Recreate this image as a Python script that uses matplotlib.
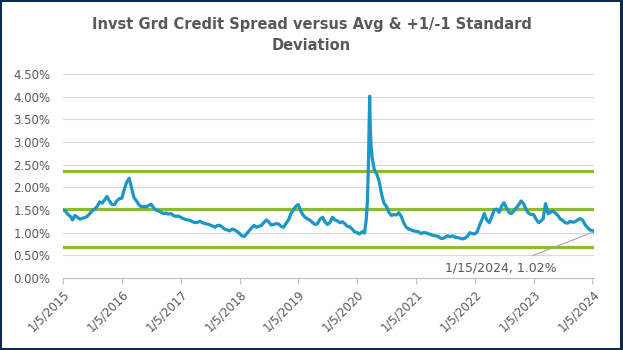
import matplotlib.pyplot as plt
from matplotlib.patches import Rectangle
import numpy as np
import pandas as pd

# Semi-monthly readings (5th and 20th) of the IG credit spread, in percent
spread_by_year = {
    2015: [1.50, 1.48, 1.40, 1.36, 1.28, 1.38, 1.34, 1.30, 1.32, 1.33, 1.36, 1.42,
           1.48, 1.52, 1.58, 1.68, 1.65, 1.72, 1.80, 1.70, 1.62, 1.62, 1.70, 1.75],
    2016: [1.76, 1.95, 2.12, 2.20, 2.00, 1.78, 1.70, 1.62, 1.57, 1.58, 1.57, 1.60,
           1.63, 1.55, 1.50, 1.48, 1.45, 1.42, 1.43, 1.41, 1.42, 1.38, 1.36, 1.37],
    2017: [1.34, 1.31, 1.29, 1.28, 1.27, 1.24, 1.22, 1.23, 1.25, 1.22, 1.20, 1.19,
           1.17, 1.15, 1.12, 1.16, 1.16, 1.12, 1.08, 1.06, 1.04, 1.08, 1.06, 1.03],
    2018: [0.98, 0.93, 0.92, 0.98, 1.04, 1.10, 1.16, 1.12, 1.14, 1.16, 1.22, 1.28,
           1.24, 1.17, 1.18, 1.20, 1.19, 1.14, 1.12, 1.20, 1.28, 1.42, 1.50, 1.58],
    2019: [1.62, 1.48, 1.38, 1.33, 1.30, 1.27, 1.22, 1.18, 1.20, 1.30, 1.34, 1.24,
           1.18, 1.22, 1.34, 1.28, 1.26, 1.22, 1.24, 1.20, 1.14, 1.13, 1.08, 1.02],
    2021: [1.03, 1.02, 0.98, 1.00, 1.00, 0.98, 0.96, 0.94, 0.93, 0.92, 0.88, 0.87,
           0.90, 0.93, 0.91, 0.93, 0.90, 0.89, 0.88, 0.86, 0.88, 0.92, 1.00, 0.98],
    2022: [0.97, 1.02, 1.18, 1.30, 1.42, 1.28, 1.22, 1.35, 1.50, 1.52, 1.45, 1.58,
           1.66, 1.55, 1.45, 1.42, 1.48, 1.55, 1.62, 1.70, 1.63, 1.50, 1.43, 1.40],
    2023: [1.40, 1.30, 1.22, 1.26, 1.30, 1.64, 1.42, 1.45, 1.48, 1.43, 1.38, 1.30,
           1.27, 1.22, 1.21, 1.25, 1.23, 1.24, 1.28, 1.31, 1.28, 1.18, 1.12, 1.06],
}

# 2020 has extra readings around the March spike
dates_2020 = ["2020-01-05", "2020-01-20", "2020-02-05", "2020-02-20", "2020-03-02",
              "2020-03-09", "2020-03-16", "2020-03-23", "2020-03-27", "2020-04-01",
              "2020-04-08", "2020-04-20", "2020-05-05", "2020-05-20", "2020-06-05",
              "2020-06-20", "2020-07-05", "2020-07-20", "2020-08-05", "2020-08-20",
              "2020-09-05", "2020-09-20", "2020-10-05", "2020-10-20", "2020-11-05",
              "2020-11-20", "2020-12-05", "2020-12-20"]
spread_2020 = [1.00, 0.97, 1.02, 0.99, 1.30, 1.70, 2.60, 4.01, 3.30, 2.90,
               2.65, 2.40, 2.30, 2.15, 1.85, 1.65, 1.58, 1.45, 1.38, 1.40,
               1.39, 1.44, 1.36, 1.22, 1.12, 1.08, 1.06, 1.04]

dates_2024 = ["2024-01-05", "2024-01-15"]
spread_2024 = [1.05, 1.02]

avg = 1.52
std = 0.84

tick_dates = [f"{y}-01-05" for y in range(2015, 2025)]
tick_labels = [f"1/5/{y}" for y in range(2015, 2025)]

# assemble the series
dates, values = [], []
for y in range(2015, 2024):
    if y == 2020:
        dates += list(pd.to_datetime(dates_2020))
        values += spread_2020
        continue
    for i, v in enumerate(spread_by_year[y]):
        m = i // 2 + 1
        d = 5 if i % 2 == 0 else 20
        dates.append(pd.Timestamp(y, m, d))
        values.append(v)
dates += list(pd.to_datetime(dates_2024))
values += spread_2024
dates = pd.to_datetime(dates)
values = np.array(values)

grey = "#595959"
fig = plt.figure(figsize=(6.23, 3.5), dpi=100)
fig.patch.set_facecolor("#0b2a50")
fig.patches.append(Rectangle((2 / 623, 2.5 / 350), 618 / 623, 345.5 / 350,
                             transform=fig.transFigure, facecolor="white",
                             edgecolor="none", zorder=-5))

ax = fig.add_axes([63 / 623, 72 / 350, 531 / 623, 204 / 350], zorder=2)
ax.set_facecolor("none")

ax.plot(dates, values, color="#1a96c8", lw=2.3, zorder=3)
for lvl in (avg + std, avg, avg - std):
    ax.axhline(lvl, color="#8cbb2c", lw=2.3, zorder=2)

ax.set_ylim(0, 4.5)
ax.set_yticks(np.arange(0, 4.51, 0.5))
ax.set_yticklabels([f"{t:.2f}%" for t in np.arange(0, 4.51, 0.5)])
ax.set_xlim(pd.Timestamp("2015-01-05"), pd.Timestamp("2024-01-15"))
ax.set_xticks(pd.to_datetime(tick_dates))
ax.set_xticklabels(tick_labels, rotation=45, ha="right", rotation_mode="anchor")

ax.grid(axis="y", color="#d9d9d9", lw=0.8, zorder=0)
for s in ("top", "right", "left"):
    ax.spines[s].set_visible(False)
ax.spines["bottom"].set_color("#bfbfbf")
ax.tick_params(axis="y", length=0, pad=9, labelsize=8.5, labelcolor=grey)
ax.tick_params(axis="x", length=4, color="#bfbfbf", pad=3, labelsize=8.5, labelcolor=grey)

ax.annotate("1/15/2024, 1.02%", xy=(dates[-1], values[-1]),
            xytext=(pd.Timestamp("2022-06-15"), 0.22), textcoords="data",
            ha="center", va="center", fontsize=9, color=grey,
            arrowprops=dict(arrowstyle="-", color="#a6a6a6", lw=0.8,
                            shrinkA=6, shrinkB=0))

fig.text(0.5, 0.90, "Invst Grd Credit Spread versus Avg & +1/-1 Standard\nDeviation",
         ha="center", va="center", fontsize=10.5, fontweight="bold", color=grey,
         linespacing=1.5)

fig.savefig("out.png", dpi=100, facecolor=fig.get_facecolor())
